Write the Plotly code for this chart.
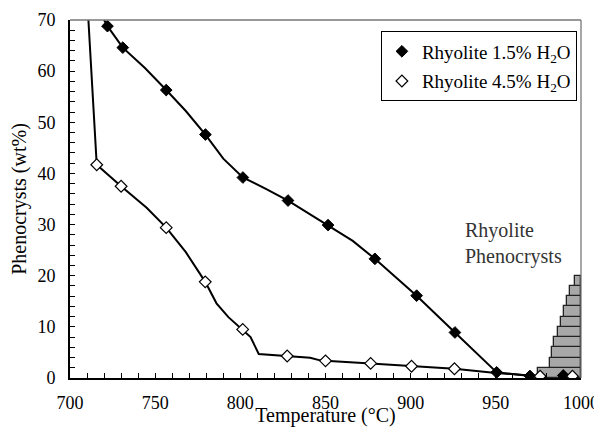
import plotly.graph_objects as go

# Rhyolite 1.5% H2O — model curve and measured points
curve15_T = [720, 722, 731, 744, 756.5, 768, 779.5, 790, 801.5, 815, 828, 851.5, 866, 879, 903.5, 926, 950.5, 970]
curve15_v = [70, 68.8, 64.6, 60.6, 56.3, 52.2, 47.6, 42.9, 39.2, 37.0, 34.7, 29.9, 26.8, 23.3, 16.1, 8.9, 1.1, 0.4]
pts15_T = [722, 731, 756.5, 779.5, 801.5, 828, 851.5, 879, 903.5, 926, 950.5, 970, 989.6]
pts15_v = [68.8, 64.6, 56.3, 47.6, 39.2, 34.7, 29.9, 23.3, 16.1, 8.9, 1.1, 0.4, 0.5]

# Rhyolite 4.5% H2O — model curve and measured points
curve45_T = [710.8, 715.7, 730, 745, 756.5, 768, 779.4, 786, 793, 801.4, 806, 810.8, 827.5, 841, 848, 850, 876.5, 900.5, 925.7, 950, 970]
curve45_v = [70, 41.7, 37.5, 33.3, 29.4, 24.6, 18.8, 14.6, 11.9, 9.5, 8.0, 4.7, 4.3, 3.95, 3.35, 3.35, 2.85, 2.3, 1.8, 1.0, 0.5]
pts45_T = [715.7, 730, 756.5, 779.4, 801.4, 827.5, 850, 876.5, 900.5, 925.7, 976, 995]
pts45_v = [41.7, 37.5, 29.4, 18.8, 9.5, 4.3, 3.35, 2.85, 2.3, 1.8, 0.35, 0.35]

# Rhyolite phenocryst histogram (rows of 2 wt%), left edges in °C
hist_center = [1, 3, 5, 7, 9, 11, 13, 15, 17, 19]
hist_left = [974.9, 981.8, 982.7, 984.3, 986.3, 988.2, 990.2, 991.8, 993.7, 996.5]
T_MAX = 1000

FONT = "Liberation Serif"

fig = go.Figure()

fig.add_trace(go.Bar(
    y=hist_center, x=[T_MAX - l for l in hist_left], base=hist_left,
    orientation="h", width=2,
    marker=dict(color="#a8a8a8", line=dict(color="#222222", width=1.3)),
    showlegend=False, hoverinfo="skip"))

fig.add_trace(go.Scatter(x=curve15_T, y=curve15_v, mode="lines",
                         line=dict(color="black", width=2), showlegend=False))
fig.add_trace(go.Scatter(x=curve45_T, y=curve45_v, mode="lines",
                         line=dict(color="black", width=2), showlegend=False))

fig.add_trace(go.Scatter(x=pts15_T, y=pts15_v, mode="markers",
                         name="Rhyolite 1.5% H<sub>2</sub>O", legendgroup="a",
                         marker=dict(symbol="diamond", size=9, color="black",
                                     line=dict(color="black", width=1))))
fig.add_trace(go.Scatter(x=pts45_T, y=pts45_v, mode="markers",
                         name="Rhyolite 4.5% H<sub>2</sub>O", legendgroup="b",
                         marker=dict(symbol="diamond", size=9, color="white",
                                     line=dict(color="black", width=1.2))))

fig.add_annotation(x=931, y=31.5, xref="x", yref="y", xanchor="left", yanchor="top",
                   text="Rhyolite<br>Phenocrysts", showarrow=False, align="left",
                   font=dict(family=FONT, size=20, color="#333333"))

# top and right frame (gray)
fig.add_shape(type="line", xref="paper", yref="paper", x0=0, x1=1, y0=1, y1=1,
              line=dict(color="#777777", width=1.3))
fig.add_shape(type="line", xref="paper", yref="paper", x0=1, x1=1, y0=0, y1=1,
              line=dict(color="#777777", width=1.3))

tickfont = dict(family=FONT, size=18, color="black")

# page body has an 8px margin, so the figure is sized/offset to compensate
fig.update_layout(
    width=594, height=419,
    margin=dict(l=62, r=21, t=12, b=49, autoexpand=False),
    plot_bgcolor="white", paper_bgcolor="white",
    font=dict(family=FONT, size=19, color="black"),
    bargap=0,
    legend=dict(x=0.992, y=0.968, xanchor="right", yanchor="top",
                bordercolor="black", borderwidth=1, bgcolor="white",
                font=dict(family=FONT, size=19), tracegroupgap=2,
                traceorder="grouped", itemwidth=30),
    xaxis=dict(range=[700, 1000], tickvals=[700, 750, 800, 850, 900, 950, 1000],
               tickfont=tickfont, automargin=False,
               ticks="inside", ticklen=5, tickwidth=1.2, tickcolor="black",
               minor=dict(dtick=10, ticks="inside", ticklen=5, tickwidth=1.2, tickcolor="black"),
               showline=True, linecolor="black", linewidth=2, showgrid=False, zeroline=False,
               title=dict(text="Temperature (°C)", font=dict(family=FONT, size=20), standoff=6),
               ticklabelstandoff=7),
    yaxis=dict(range=[0, 70], dtick=10,
               tickfont=tickfont, automargin=False,
               ticks="inside", ticklen=5, tickwidth=1.2, tickcolor="black",
               minor=dict(dtick=2, ticks="inside", ticklen=5, tickwidth=1.2, tickcolor="black"),
               showline=True, linecolor="black", linewidth=2, showgrid=False, zeroline=False,
               title=dict(text="Phenocrysts (wt%)", font=dict(family=FONT, size=20), standoff=8),
               ticklabelstandoff=9),
)

fig.write_html("out.html")
